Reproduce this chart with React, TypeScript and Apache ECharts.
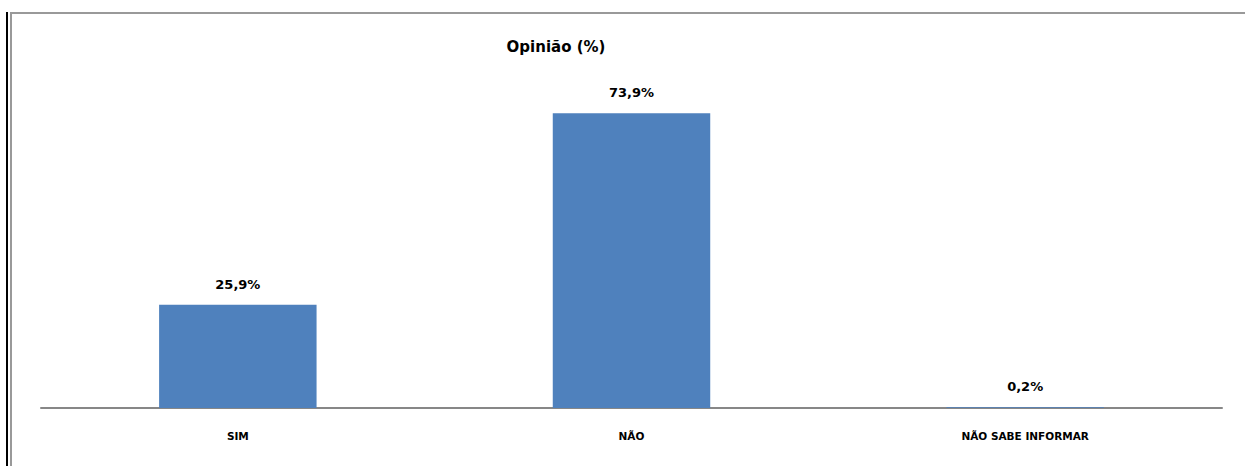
import React, { useEffect, useRef } from "react";
import * as echarts from "echarts";

const categories = ["SIM", "NÃO", "NÃO SABE INFORMAR"];
const values = [25.9, 73.9, 0.2];
const titleText = "Opinião (%)";

const FONT = "'DejaVu Sans', sans-serif";

export default function App() {
  const ref = useRef<HTMLDivElement>(null);
  useEffect(() => {
    document.body.style.margin = "0";
    const chart = echarts.init(ref.current!, null, { renderer: "svg" });
    chart.setOption({
      animation: false,
      backgroundColor: "#ffffff",
      title: {
        text: titleText,
        left: 551,
        top: 34,
        textAlign: "center",
        textStyle: { fontFamily: FONT, fontWeight: "bold", fontSize: 15, color: "#000" },
      },
      grid: { left: 41, right: 23, top: 89, bottom: 58, containLabel: false },
      xAxis: {
        type: "category",
        data: categories,
        axisLine: { show: true, lineStyle: { color: "#878787", width: 2 } },
        axisTick: { show: false },
        axisLabel: {
          margin: 22,
          fontFamily: FONT,
          fontWeight: "bold",
          fontSize: 10.5,
          color: "#000",
        },
      },
      yAxis: {
        type: "value",
        min: 0,
        max: 80,
        show: false,
        splitLine: { show: false },
      },
      series: [
        {
          type: "bar",
          data: values,
          barWidth: "40%",
          itemStyle: { color: "#4F81BD" },
          label: {
            show: true,
            position: "top",
            distance: 14,
            fontFamily: FONT,
            fontWeight: "bold",
            fontSize: 13,
            color: "#000",
            formatter: (p: any) => String(p.value).replace(".", ",") + "%",
          },
        },
      ],
      graphic: [
        { type: "line", shape: { x1: 7, y1: 12, x2: 7, y2: 466 }, style: { stroke: "#000", lineWidth: 2 } },
        { type: "line", shape: { x1: 11, y1: 13, x2: 11, y2: 466 }, style: { stroke: "#999", lineWidth: 2 } },
        { type: "line", shape: { x1: 10, y1: 13, x2: 1245, y2: 13 }, style: { stroke: "#999", lineWidth: 2 } },
      ],
    });
    return () => chart.dispose();
  }, []);
  return <div ref={ref} style={{ position: "absolute", left: 0, top: 0, width: 1245, height: 466 }} />;
}
